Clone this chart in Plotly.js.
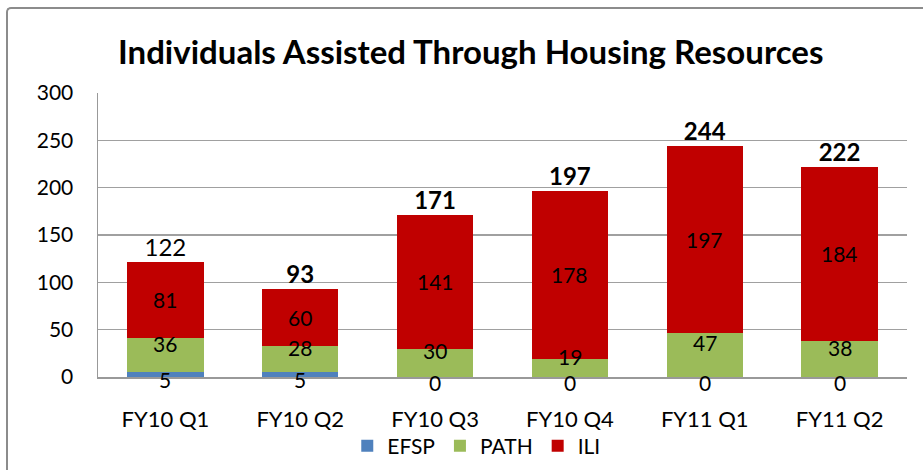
<!DOCTYPE html>
<html>
<head>
<meta charset="utf-8">
<script src="https://cdn.plot.ly/plotly-3.0.1.min.js"></script>
<style>
  html, body { margin: 0; padding: 0; background: #fff; }
  #wrap { position: relative; width: 923px; height: 470px; overflow: hidden; }
  #chart { width: 923px; height: 470px; }
  #frame { position: absolute; left: 6px; top: 7px; width: 940px; height: 480px;
           border-left: 2px solid #8c8c8c; border-top: 2px solid #8c8c8c;
           border-top-left-radius: 5px; pointer-events: none; }
</style>
</head>
<body>
<div id="wrap">
  <div id="chart"></div>
  <div id="frame"></div>
</div>
<script>
// ---- data ----
const categories = ["FY10 Q1", "FY10 Q2", "FY10 Q3", "FY10 Q4", "FY11 Q1", "FY11 Q2"];
const efsp = [5, 5, 0, 0, 0, 0];
const path = [36, 28, 30, 19, 47, 38];
const ili  = [81, 60, 141, 178, 197, 184];
const totals = [122, 93, 171, 197, 244, 222];
const seriesNames = ["EFSP", "PATH", "ILI"];
const yTicks = [0, 50, 100, 150, 200, 250, 300];

// ---- styling ----
const colors = { EFSP: "#4F81BD", PATH: "#9BBB59", ILI: "#C00000" };
const FONT = "Lato, 'Open Sans', sans-serif";
const series = [efsp, path, ili];
const labelShift = [-5, 12, 0];   // pixel nudges per series for the segment labels

const traces = [];
series.forEach((vals, k) => {
  traces.push({
    type: "bar", name: seriesNames[k], x: categories, y: vals,
    marker: { color: colors[seriesNames[k]] },
    hoverinfo: "x+y+name"
  });
});

// segment labels at the middle of each stacked segment (annotations)
const annotations = [];
series.forEach((vals, k) => {
  vals.forEach((v, i) => {
    let base = 0;
    for (let j = 0; j < k; j++) base += series[j][i];
    annotations.push({
      x: categories[i], y: base + v / 2, xref: "x", yref: "y",
      text: String(v), showarrow: false, yanchor: "middle", xanchor: "center",
      yshift: labelShift[k], borderpad: 0,
      font: { family: FONT, size: 21, color: "#000" }
    });
  });
});

// totals above each stack
traces.push({
  type: "scatter", mode: "text", x: categories, y: totals,
  text: totals.map((v, i) => i === 0 ? String(v) : "<b>" + v + "</b>"),
  textposition: "top center",
  textfont: { family: FONT, size: 24, color: "#000" },
  showlegend: false, hoverinfo: "skip", cliponaxis: false
});

const layout = {
  width: 923, height: 470,
  margin: { l: 98, r: 16, t: 93, b: 93 },
  paper_bgcolor: "#fff", plot_bgcolor: "#fff",
  barmode: "stack", bargap: 0.433,
  font: { family: FONT, color: "#000", size: 21 },
  title: {
    text: "<b>Individuals Assisted Through Housing Resources</b>",
    font: { family: FONT, size: 33, color: "#000" },
    xref: "container", x: 0.51, xanchor: "center",
    yref: "container", y: 0.889, yanchor: "middle"
  },
  xaxis: {
    type: "category", showgrid: false, zeroline: false, automargin: false,
    showline: true, linecolor: "#999", linewidth: 1.5,
    ticks: "", ticklabelstandoff: 22,
    tickfont: { family: FONT, size: 22, color: "#000" }
  },
  yaxis: {
    range: [0, 300], tickvals: yTicks, ticktext: yTicks.map(String), automargin: false,
    showgrid: true, gridcolor: "#a0a0a0", gridwidth: 1.5,
    zeroline: false, showline: true, linecolor: "#999", linewidth: 1.5,
    ticks: "", ticklabelstandoff: 19,
    tickfont: { family: FONT, size: 21, color: "#000" }
  },
  legend: {
    orientation: "h", xref: "container", yref: "container",
    x: 0.516, xanchor: "center", y: 0.051, yanchor: "middle",
    font: { family: FONT, size: 21, color: "#000" },
    traceorder: "normal", itemwidth: 30, bgcolor: "rgba(0,0,0,0)"
  },
  annotations: annotations,
  showlegend: true
};

Plotly.newPlot("chart", traces, layout, { displayModeBar: false, staticPlot: true });
</script>
</body>
</html>
